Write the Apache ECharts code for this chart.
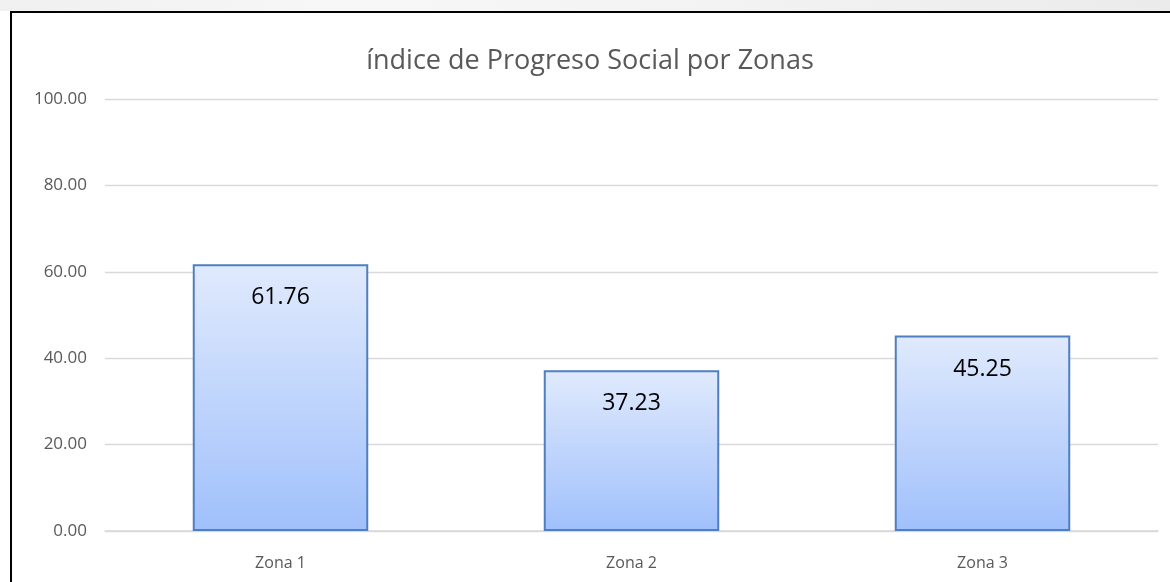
<!DOCTYPE html>
<html>
<head>
<meta charset="utf-8">
<script src="https://cdn.jsdelivr.net/npm/echarts@6/dist/echarts.min.js"></script>
<style>
html,body{margin:0;padding:0;background:#fff;}
#main{width:1170px;height:582px;}
</style>
</head>
<body>
<div id="main"></div>
<script>
var titleText = 'índice de Progreso Social por Zonas';
var categories = ['Zona 1', 'Zona 2', 'Zona 3'];
var values = [61.76, 37.23, 45.25];
var yTicks = [0, 20, 40, 60, 80, 100];

var chart = echarts.init(document.getElementById('main'));
chart.setOption({
  backgroundColor: '#ffffff',
  animation: false,
  title: {
    text: titleText,
    left: 585,
    top: 43,
    textAlign: 'center',
    textStyle: { fontFamily: 'Open Sans', fontSize: 27, fontWeight: 'normal', color: '#595959' }
  },
  graphic: [
    { type: 'rect', shape: { x: 0, y: 0, width: 1170, height: 11 },
      style: { fill: new echarts.graphic.LinearGradient(0, 0, 1, 0, [
        { offset: 0, color: '#f0f0f0' }, { offset: 0.3, color: '#f7f7f7' },
        { offset: 0.6, color: '#f3f3f3' }, { offset: 1, color: '#ebebeb' }]) }, silent: true },
    { type: 'line', shape: { x1: 11, y1: 12, x2: 1170, y2: 12 }, style: { stroke: '#000', lineWidth: 2 }, silent: true },
    { type: 'line', shape: { x1: 11, y1: 11, x2: 11, y2: 582 }, style: { stroke: '#000', lineWidth: 2 }, silent: true }
  ],
  grid: { left: 105, right: 12, top: 99, bottom: 51, containLabel: false },
  xAxis: {
    type: 'category',
    data: categories,
    axisLine: { show: true, lineStyle: { color: '#d9d9d9', width: 1.5 } },
    axisTick: { show: false },
    axisLabel: { fontFamily: 'Open Sans', fontSize: 16, color: '#595959', margin: 24 }
  },
  yAxis: {
    type: 'value',
    min: yTicks[0],
    max: yTicks[yTicks.length - 1],
    interval: 20,
    axisLine: { show: false },
    axisTick: { show: false },
    splitLine: { lineStyle: { color: '#d9d9d9', width: 1.3 } },
    axisLabel: { fontFamily: 'Open Sans', fontSize: 17, color: '#595959', margin: 18,
      formatter: function (v) { return v.toFixed(2); } }
  },
  series: [{
    type: 'bar',
    data: values,
    barWidth: '50%',
    itemStyle: {
      color: new echarts.graphic.LinearGradient(0, 0, 0, 1, [
        { offset: 0, color: '#e0eafd' },
        { offset: 1, color: '#a0c0fb' }
      ]),
      borderColor: '#4f7fbf',
      borderWidth: 2
    },
    label: {
      show: true,
      position: 'insideTop',
      distance: 22,
      fontFamily: 'Open Sans',
      fontSize: 23,
      color: '#000000',
      formatter: function (p) { return p.value.toFixed(2); }
    }
  }]
});
</script>
</body>
</html>
